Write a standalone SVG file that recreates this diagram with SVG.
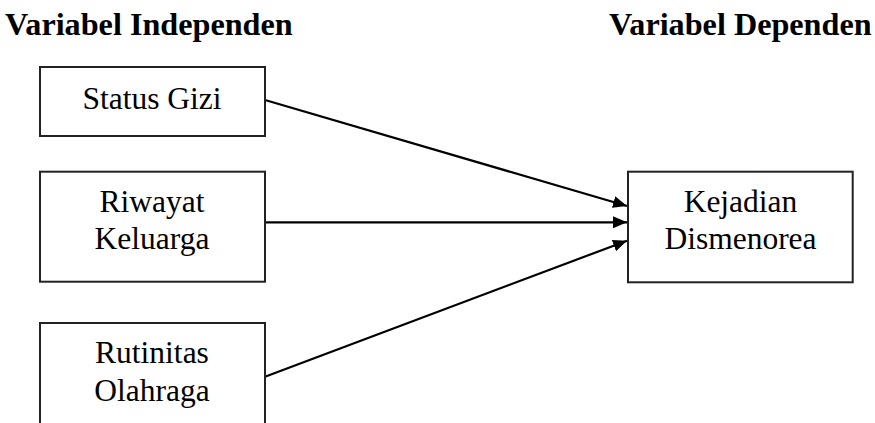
<svg xmlns="http://www.w3.org/2000/svg" width="875" height="423" viewBox="0 0 875 423">
  <style>
    .head { font-family: 'Liberation Serif', serif; font-weight: bold; font-size: 32.2px; fill: #000; }
    .label { font-family: 'Liberation Serif', serif; font-size: 31.5px; fill: #000; text-anchor: middle; }
    .box { fill: #fff; stroke: #222; stroke-width: 2; }
    .edge { stroke: #000; stroke-width: 2.2; fill: none; marker-end: url(#arrow); }
  </style>
  <defs>
    <marker id="arrow" viewBox="0 0 14 12" refX="14" refY="6" markerWidth="14" markerHeight="12" markerUnits="userSpaceOnUse" orient="auto">
      <path d="M0,0 L14,6 L0,12 Z" fill="#000"/>
    </marker>
  </defs>
  <rect width="875" height="423" fill="#fff"/>

  <!-- column headings -->
  <text class="head" x="5" y="35">Variabel Independen</text>
  <text class="head" x="609" y="35">Variabel Dependen</text>

  <!-- connectors -->
  <g id="connectors">
    <line class="edge" x1="265" y1="100" x2="627" y2="206"/>
    <line class="edge" x1="265" y1="222.3" x2="627" y2="222.3"/>
    <line class="edge" x1="265" y1="376.7" x2="627" y2="240.7"/>
  </g>

  <!-- independent variables -->
  <g id="status-gizi">
    <rect class="box" x="40" y="67" width="225" height="69"/>
    <text class="label" x="152" y="109">Status Gizi</text>
  </g>
  <g id="riwayat-keluarga">
    <rect class="box" x="40" y="171.7" width="225" height="110"/>
    <text class="label" x="152" y="211.7">Riwayat</text>
    <text class="label" x="152" y="249.3">Keluarga</text>
  </g>
  <g id="rutinitas-olahraga">
    <rect class="box" x="40" y="323" width="225" height="120"/>
    <text class="label" x="152" y="363.3">Rutinitas</text>
    <text class="label" x="152" y="400.7">Olahraga</text>
  </g>

  <!-- dependent variable -->
  <g id="kejadian-dismenorea">
    <rect class="box" x="628" y="171.7" width="224.7" height="110.6"/>
    <text class="label" x="740.5" y="211.7">Kejadian</text>
    <text class="label" x="740.5" y="249.3">Dismenorea</text>
  </g>
</svg>
